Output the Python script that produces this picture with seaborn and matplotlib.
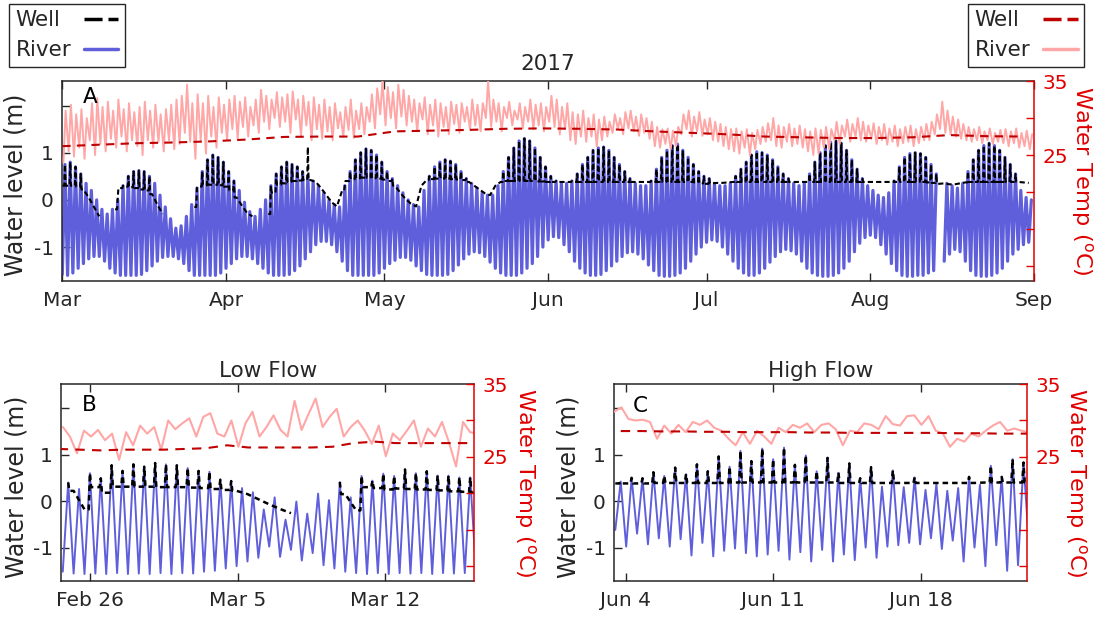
import numpy as np
import pandas as pd
import matplotlib
matplotlib.use("Agg")
import matplotlib.pyplot as plt
from matplotlib.lines import Line2D
import seaborn as sns

nan = np.nan

# ---------------- Panel A: daily tidal extremes, 1 Mar - 31 Aug 2017 ----------------
a_days = pd.date_range("2017-03-01", periods=184, freq="D")
a_river_hi = [
    0.75, 0.80, 0.70, 0.55, 0.35, 0.20, 0.00, -0.20, -0.30, -0.20,
    0.00, 0.30, 0.50, 0.60, 0.62, 0.60, 0.50, 0.35, 0.10, -0.15,
    -0.40, -0.60, -0.55, -0.35, -0.10, 0.25, 0.60, 0.85, 0.95, 0.90,
    0.80, 0.60, 0.40, 0.20, -0.05, -0.25, -0.35, -0.20, 0.00, 0.30,
    0.55, 0.70, 0.80, 0.75, 0.70, 0.60, 0.50, 0.40, 0.30, 0.15,
    0.00, -0.10, -0.15, 0.30, 0.60, 0.85, 1.00, 1.08, 1.05, 0.95,
    0.80, 0.60, 0.45, 0.30, 0.15, 0.00, -0.10, -0.15, 0.20, 0.50,
    0.70, 0.80, 0.85, 0.82, 0.75, 0.60, 0.45, 0.35, 0.25, 0.15,
    0.10, 0.10, 0.30, 0.60, 0.90, 1.10, 1.25, 1.30, 1.25, 1.10,
    0.90, 0.70, 0.50, 0.40, 0.35, 0.35, 0.40, 0.55, 0.75, 0.90,
    1.05, 1.10, 1.12, 1.05, 0.90, 0.75, 0.60, 0.45, 0.35, 0.30,
    0.30, 0.40, 0.65, 0.90, 1.05, 1.15, 1.18, 1.05, 0.90, 0.75,
    0.60, 0.50, 0.45, 0.35, 0.30, 0.30, 0.35, 0.50, 0.65, 0.80,
    0.95, 1.02, 1.00, 0.95, 0.85, 0.70, 0.55, 0.45, 0.35, 0.30,
    0.35, 0.55, 0.80, 1.00, 1.15, 1.22, 1.25, 1.20, 1.05, 0.85,
    0.65, 0.45, 0.30, 0.20, 0.10, 0.05, 0.15, 0.40, 0.70, 0.90,
    0.98, 1.00, 0.98, 0.90, 0.75, 0.55, nan, 0.35, 0.30, 0.25,
    0.35, 0.60, 0.85, 1.05, 1.15, 1.20, 1.15, 1.05, 0.90, 0.75,
    0.55, 0.20, 0.05, 0.00]
a_river_lo = [
    -1.58, -1.60, -1.55, -1.45, -1.35, -1.25, -1.20, -1.20, -1.30, -1.45,
    -1.55, -1.60, -1.60, -1.60, -1.60, -1.58, -1.50, -1.40, -1.30, -1.22,
    -1.20, -1.20, -1.25, -1.35, -1.50, -1.60, -1.60, -1.60, -1.60, -1.60,
    -1.55, -1.45, -1.35, -1.25, -1.20, -1.20, -1.25, -1.35, -1.45, -1.55,
    -1.60, -1.60, -1.60, -1.58, -1.50, -1.40, -1.25, -1.10, -0.95, -0.88,
    -0.88, -0.95, -1.10, -1.30, -1.50, -1.60, -1.60, -1.60, -1.60, -1.60,
    -1.55, -1.45, -1.35, -1.28, -1.22, -1.22, -1.28, -1.40, -1.50, -1.58,
    -1.60, -1.60, -1.60, -1.58, -1.50, -1.38, -1.25, -1.15, -1.10, -1.12,
    -1.20, -1.32, -1.45, -1.55, -1.60, -1.60, -1.60, -1.55, -1.45, -1.35,
    -1.20, -1.00, -0.85, -0.78, -0.80, -0.95, -1.10, -1.30, -1.45, -1.55,
    -1.60, -1.60, -1.58, -1.50, -1.40, -1.30, -1.20, -1.12, -1.10, -1.15,
    -1.25, -1.38, -1.50, -1.60, -1.62, -1.62, -1.60, -1.55, -1.45, -1.30,
    -1.15, -1.00, -0.90, -0.85, -0.88, -1.00, -1.15, -1.30, -1.45, -1.55,
    -1.60, -1.60, -1.55, -1.45, -1.32, -1.20, -1.10, -1.05, -1.08, -1.15,
    -1.30, -1.45, -1.55, -1.60, -1.62, -1.62, -1.60, -1.55, -1.45, -1.30,
    -1.10, -0.92, -0.80, -0.75, -0.80, -0.95, -1.15, -1.35, -1.50, -1.60,
    -1.62, -1.62, -1.60, -1.60, -1.55, -1.50, nan, -1.30, -1.15, -1.05,
    -1.10, -1.30, -1.50, -1.60, -1.62, -1.62, -1.60, -1.55, -1.45, -1.30,
    -1.15, -1.05, -0.95, -0.90]
a_well_base = [
    0.30, 0.30, 0.30, 0.28, 0.22, 0.05, -0.15, -0.35, nan, nan,
    -0.20, 0.25, 0.28, 0.27, 0.25, 0.22, 0.20, 0.12, -0.10, -0.30,
    nan, nan, nan, nan, nan, -0.15, 0.28, 0.31, 0.32, 0.32,
    0.31, 0.28, 0.20, 0.05, -0.12, -0.28, -0.35, nan, nan, -0.30,
    0.15, 0.32, 0.35, 0.38, 0.40, 0.41, 0.42, 0.42, 0.38, 0.25,
    0.10, -0.05, -0.14, 0.20, 0.40, 0.44, 0.46, 0.47, 0.47, 0.46,
    0.45, 0.43, 0.40, 0.30, 0.15, 0.02, -0.08, -0.14, 0.30, 0.42,
    0.44, 0.45, 0.45, 0.45, 0.44, 0.43, 0.42, 0.38, 0.30, 0.22,
    0.14, 0.10, 0.30, 0.38, 0.40, 0.40, 0.40, 0.40, 0.40, 0.40,
    0.39, 0.39, 0.38, 0.38, 0.38, 0.38, 0.38, 0.38, 0.38, 0.38,
    0.38, 0.38, 0.38, 0.38, 0.38, 0.38, 0.38, 0.38, 0.38, 0.38,
    0.38, 0.38, 0.38, 0.38, 0.38, 0.38, 0.38, 0.38, 0.38, 0.38,
    0.37, 0.35, 0.34, 0.35, 0.36, 0.36, 0.37, 0.38, 0.38, 0.38,
    0.38, 0.38, 0.38, 0.38, 0.38, 0.38, 0.38, 0.38, 0.38, 0.38,
    0.38, 0.38, 0.38, 0.38, 0.38, 0.38, 0.38, 0.38, 0.38, 0.38,
    0.38, 0.38, 0.38, 0.38, 0.38, 0.38, 0.38, 0.38, 0.38, 0.38,
    0.38, 0.38, 0.38, 0.38, 0.37, 0.36, 0.34, 0.35, 0.33, 0.33,
    0.35, 0.37, 0.38, 0.38, 0.38, 0.38, 0.38, 0.38, 0.38, 0.38,
    0.38, 0.38, 0.37, 0.36]
a_well_peak = [
    0.75, 0.80, 0.70, 0.55, 0.22, 0.05, -0.15, -0.35, nan, nan,
    0.05, 0.30, 0.50, 0.60, 0.62, 0.60, 0.50, 0.12, -0.10, -0.30,
    nan, nan, nan, nan, nan, 0.25, 0.60, 0.85, 0.95, 0.90,
    0.80, 0.60, 0.40, 0.05, -0.12, -0.28, -0.35, nan, nan, 0.30,
    0.55, 0.70, 0.80, 0.75, 0.70, 0.60, 1.12, 0.42, 0.38, 0.25,
    0.10, -0.05, -0.14, 0.30, 0.60, 0.85, 1.00, 1.08, 1.05, 0.95,
    0.80, 0.60, 0.45, 0.30, 0.15, 0.02, -0.08, -0.14, 0.30, 0.50,
    0.70, 0.80, 0.85, 0.82, 0.75, 0.60, 0.45, 0.38, 0.30, 0.22,
    0.14, 0.10, 0.30, 0.60, 0.90, 1.10, 1.25, 1.30, 1.25, 1.10,
    0.90, 0.70, 0.50, 0.40, 0.38, 0.38, 0.40, 0.55, 0.75, 0.90,
    1.05, 1.10, 1.12, 1.05, 0.90, 0.75, 0.60, 0.45, 0.38, 0.38,
    0.38, 0.40, 0.65, 0.90, 1.05, 1.15, 1.18, 1.05, 0.90, 0.75,
    0.60, 0.50, 0.45, 0.35, 0.36, 0.36, 0.37, 0.50, 0.65, 0.80,
    0.95, 1.02, 1.00, 0.95, 0.85, 0.70, 0.55, 0.45, 0.38, 0.38,
    0.38, 0.55, 0.80, 1.00, 1.15, 1.22, 1.25, 1.20, 1.05, 0.85,
    0.65, 0.45, 0.38, 0.38, 0.38, 0.38, 0.38, 0.40, 0.70, 0.90,
    0.98, 1.00, 0.98, 0.90, 0.75, 0.55, 0.34, 0.35, 0.33, 0.33,
    0.35, 0.60, 0.85, 1.05, 1.15, 1.20, 1.15, 1.05, 0.90, 0.75,
    0.55, 0.38, 0.37, 0.36]
a_rtemp_hi = [
    31.0, 31.8, 30.5, 31.2, 30.0, 32.0, 32.7, 31.5, 32.2, 31.0,
    32.5, 31.2, 32.0, 30.8, 31.5, 32.2, 31.0, 31.8, 30.5, 31.2,
    31.8, 32.5, 33.0, 34.5, 32.0, 33.2, 32.0, 33.0, 31.5, 32.8,
    31.8, 32.5, 33.0, 32.2, 32.8, 31.5, 32.5, 33.8, 33.0, 32.5,
    33.5, 32.8, 33.2, 33.6, 32.5, 33.0, 32.2, 32.8, 31.8, 32.5,
    31.5, 32.0, 30.8, 31.5, 32.5, 31.0, 32.0, 31.5, 33.2, 34.0,
    35.0, 34.2, 33.5, 34.5, 33.8, 33.0, 32.5, 32.0, 32.8, 31.8,
    32.5, 32.0, 31.5, 32.2, 31.8, 32.0, 31.5, 32.5, 31.8, 32.0,
    35.0, 32.5, 32.0, 31.5, 32.2, 31.0, 32.0, 31.5, 32.5, 31.8,
    32.0, 31.5, 33.0, 32.5, 31.5, 32.0, 30.8, 30.5, 31.0, 30.0,
    30.5, 29.8, 30.2, 29.5, 30.5, 30.0, 30.8, 31.0, 30.2, 30.5,
    30.0, 29.5, 28.8, 28.5, 28.6, 28.3, 28.8, 30.5, 31.0, 30.2,
    30.8, 29.8, 30.0, 29.5, 29.2, 28.8, 28.5, 28.6, 28.2, 28.5,
    28.0, 28.4, 28.8, 29.3, 30.0, 29.0, 28.8, 29.2, 28.6, 29.0,
    28.5, 28.2, 28.6, 28.4, 28.8, 28.5, 29.5, 29.0, 29.8, 29.2,
    30.0, 29.5, 29.0, 29.3, 28.8, 29.2, 28.6, 29.0, 28.5, 28.8,
    29.0, 28.5, 28.8, 29.2, 29.5, 30.5, 32.2, 31.0, 30.2, 29.8,
    29.2, 28.8, 28.5, 28.8, 28.2, 28.6, 28.0, 28.4, 28.5, 28.2,
    28.6, 28.0, 28.3, 27.8]
a_rtemp_lo = [
    24.0, 25.5, 24.8, 26.0, 24.5, 27.0, 25.0, 26.5, 25.5, 27.2,
    26.0, 27.5, 25.5, 27.0, 26.2, 25.0, 27.0, 26.0, 26.8, 25.5,
    27.0, 25.8, 26.5, 28.0, 26.8, 24.5, 27.0, 25.2, 27.5, 26.0,
    28.0, 27.0, 28.5, 27.2, 28.8, 27.5, 29.0, 28.0, 29.5, 28.5,
    30.0, 28.8, 29.5, 28.0, 29.8, 27.5, 29.0, 27.0, 28.5, 27.2,
    28.2, 27.0, 28.6, 27.5, 28.4, 27.3, 28.5, 27.8, 29.5, 28.6,
    30.5, 29.0, 30.0, 28.6, 30.2, 29.0, 29.5, 28.2, 29.8, 27.8,
    29.0, 27.5, 28.8, 27.8, 29.2, 28.0, 29.5, 28.4, 29.0, 28.2,
    30.0, 28.8, 29.5, 28.2, 30.0, 29.0, 29.8, 28.6, 29.5, 28.5,
    29.0, 28.2, 29.5, 28.8, 27.8, 28.5, 27.0, 26.5, 27.5, 26.8,
    27.5, 26.2, 27.0, 27.5, 28.0, 28.5, 27.8, 28.6, 28.2, 27.6,
    28.0, 27.2, 26.2, 26.0, 26.5, 25.8, 26.2, 27.8, 28.5, 27.5,
    28.2, 27.6, 27.8, 27.0, 26.8, 26.2, 25.8, 25.5, 25.2, 26.0,
    25.0, 25.8, 26.5, 26.8, 27.0, 26.2, 26.0, 26.8, 26.2, 26.5,
    26.0, 25.5, 25.0, 25.2, 26.0, 25.8, 27.0, 26.5, 27.5, 26.8,
    27.5, 27.0, 26.8, 27.2, 26.5, 27.0, 26.4, 26.8, 26.2, 26.6,
    26.8, 26.2, 26.6, 27.0, 27.0, 27.8, 28.5, 28.0, 27.8, 27.5,
    27.2, 27.0, 26.8, 27.0, 26.6, 27.0, 26.5, 26.8, 26.6, 26.2,
    26.6, 26.0, 26.2, 25.8]
a_wtemp_t = pd.date_range("2017-03-01", periods=27, freq="7D")
a_wtemp = [26.2, 26.4, 26.6, 26.7, 26.85, 27.1, 27.45, 27.5, 27.5, 28.2,
           28.3, 28.4, 28.55, 28.6, 28.55, 28.45, 28.2, 28.0, 27.8, 27.5,
           27.4, 27.3, 27.3, 27.4, 27.7, 27.55, 27.5]

# ---------------- Panel B: Low Flow (individual tides) ----------------
b_hi_t = pd.date_range("2017-02-24 22:48", periods=38, freq="743min")
b_lo_t = pd.date_range("2017-02-24 16:37", periods=39, freq="743min")
b_river_hi = [0.40, 0.26, 0.60, 0.49, 0.77, 0.65, 0.79, 0.74, 0.82, 0.79,
              0.77, 0.71, 0.65, 0.63, 0.46, 0.43, 0.28, 0.19, -0.18, 0.08,
              -0.40, -0.01, -0.27, 0.16, 0.02, 0.41, 0.08, 0.54, 0.44, 0.59,
              0.54, 0.68, 0.60, 0.64, 0.55, 0.55, 0.51, 0.51]
b_river_lo = [-1.52, -1.56, -1.57, -1.56, -1.57, -1.55, -1.57, -1.56, -1.57, -1.55,
              -1.57, -1.55, -1.56, -1.52, -1.50, -1.45, -1.40, -1.30, -1.22, -0.98,
              -1.20, -1.05, -1.28, -1.12, -1.38, -1.45, -1.52, -1.55, -1.57, -1.55,
              -1.57, -1.55, -1.56, -1.55, -1.57, -1.55, -1.56, -1.55, -1.40]
b_well_lo = [nan, 0.22, -0.18, 0.30, 0.18, 0.31, 0.31, 0.31, 0.31, 0.30,
             0.30, 0.30, 0.29, 0.28, 0.26, 0.24, 0.22, 0.15, 0.04, -0.07,
             -0.17, -0.26, nan, nan, nan, nan, 0.15, -0.20, 0.30, 0.28,
             0.25, 0.27, 0.26, 0.25, 0.24, 0.23, 0.21, 0.20, 0.18]
b_well_pk = [0.40, nan, 0.60, 0.49, 0.77, 0.65, 0.79, 0.74, 0.82, 0.79,
             0.77, 0.71, 0.65, 0.63, 0.46, 0.43, nan, nan, nan, nan,
             nan, nan, nan, nan, nan, 0.41, nan, 0.54, 0.44, 0.59,
             0.54, 0.68, 0.60, 0.64, 0.55, 0.55, 0.51, 0.51]
b_rtemp_t = pd.date_range("2017-02-24 16:48", periods=60, freq="8h")
b_rtemp = [29.1, 27.8, 25.5, 28.6, 27.8, 28.7, 27.3, 28.2, 24.6, 28.4,
           26.6, 29.3, 28.2, 29.1, 26.0, 30.0, 28.8, 29.6, 30.3, 27.8,
           30.5, 31.0, 28.2, 27.8, 30.0, 26.4, 29.6, 31.2, 27.8, 29.1,
           30.7, 28.7, 27.8, 32.7, 28.7, 30.9, 33.0, 29.1, 30.5, 31.6,
           27.8, 29.1, 30.0, 28.6, 26.8, 29.3, 25.1, 28.2, 27.3, 28.6,
           30.0, 26.4, 28.9, 27.8, 29.8, 27.0, 23.7, 29.8, 28.4, 28.2]
b_wtemp_t = pd.date_range("2017-02-24 12:00", periods=21, freq="D")
b_wtemp = [26.1, 26.0, 25.9, 26.0, 26.0, 26.0, 26.1, 26.2, 26.6, 26.3,
           26.3, 26.3, 26.3, 26.4, 26.9, 27.1, 26.9, 26.9, 26.9, 26.9, 26.9]

# ---------------- Panel C: High Flow (individual tides) ----------------
c_hi_t = pd.date_range("2017-06-03 18:00", periods=38, freq="745min")
c_lo_t = pd.date_range("2017-06-03 11:48", periods=39, freq="745min")
c_river_hi = [0.42, 0.50, 0.49, 0.62, 0.54, 0.72, 0.58, 0.79, 0.64, 0.96,
              0.74, 1.08, 0.86, 1.13, 0.90, 1.15, 0.78, 0.98, 0.64, 0.93,
              0.61, 0.81, 0.49, 0.73, 0.31, 0.66, 0.30, 0.51, 0.24, 0.37,
              0.22, 0.28, 0.52, 0.35, 0.76, 0.52, 0.90, 0.83]
c_river_lo = [-0.62, -0.98, -0.70, -0.93, -0.80, -0.98, -0.82, -1.17, -0.90, -1.19,
              -1.07, -1.02, -1.12, -1.19, -1.15, -1.07, -1.26, -1.10, -1.30, -1.05,
              -1.30, -1.15, -1.27, -1.00, -1.22, -0.98, -0.95, -0.90, -0.93, -0.80,
              -1.03, -0.85, -1.30, -1.00, -1.40, -0.95, -1.50, -1.38, -0.90]
c_well_lo = [0.38, 0.38, 0.38, 0.38, 0.39, 0.39, 0.39, 0.39, 0.39, 0.39,
             0.39, 0.40, 0.40, 0.40, 0.40, 0.40, 0.40, 0.40, 0.40, 0.40,
             0.40, 0.39, 0.39, 0.39, 0.39, 0.39, 0.39, 0.39, 0.39, 0.39,
             0.39, 0.39, 0.39, 0.39, 0.40, 0.40, 0.40, 0.40, 0.40]
c_well_pk = [0.42, 0.50, 0.49, 0.62, 0.54, 0.72, 0.58, 0.79, 0.64, 0.96,
             0.74, 1.08, 0.86, 1.13, 0.90, 1.15, 0.78, 0.98, 0.64, 0.93,
             0.61, 0.81, 0.49, 0.73, nan, 0.66, nan, 0.51, nan, nan,
             nan, nan, 0.52, nan, 0.76, 0.52, 0.90, 0.83]
c_rtemp_t = pd.date_range("2017-06-03 10:34", periods=59, freq="489min")
c_rtemp = [31.2, 31.8, 30.2, 30.0, 30.1, 29.8, 27.5, 29.3, 28.2, 29.4,
           28.4, 29.8, 29.4, 30.0, 29.0, 28.6, 27.5, 26.6, 28.4, 26.8,
           28.6, 27.8, 26.8, 29.0, 28.4, 29.4, 29.0, 29.6, 28.4, 29.4,
           29.6, 28.8, 26.6, 28.6, 28.4, 29.6, 29.4, 28.8, 30.6, 29.5,
           29.3, 30.6, 30.7, 29.4, 30.6, 28.6, 28.2, 26.4, 27.5, 27.1,
           28.2, 27.8, 28.6, 29.3, 29.8, 28.6, 28.9, 28.6, 28.4]
c_wtemp_t = pd.date_range("2017-06-03 18:00", periods=21, freq="D")
c_wtemp = [28.55, 28.55, 28.5, 28.5, 28.45, 28.45, 28.4, 28.4, 28.4, 28.35,
           28.35, 28.3, 28.3, 28.3, 28.3, 28.3, 28.25, 28.25, 28.2, 28.2, 28.2]

# ---------------- helpers ----------------
def alternate(t_a, v_a, t_b, v_b):
    ts, vs = [], []
    for i in range(len(t_a)):
        ts.append(t_a[i]); vs.append(v_a[i])
        if i < len(t_b):
            ts.append(t_b[i]); vs.append(v_b[i])
    return ts, vs


def well_path(t_lo, base, t_hi, peak, shoulder):
    ts, vs = [], []
    n = len(t_hi)
    for i in range(n):
        ts.append(t_lo[i]); vs.append(base[i])
        nxt = base[i + 1] if i + 1 < len(base) else base[i]
        p = peak[i]
        if np.isnan(p) or (not np.isnan(base[i]) and p <= base[i] + 0.005):
            continue
        ts += [t_hi[i] - shoulder, t_hi[i], t_hi[i] + shoulder]
        vs += [base[i], p, nxt]
    if len(base) > n:
        ts.append(t_lo[n]); vs.append(base[n])
    return ts, vs


def frame(ts, vs):
    v = np.asarray(vs, dtype=float)
    seg = np.cumsum(np.isnan(v))
    df = pd.DataFrame({"t": pd.DatetimeIndex(ts), "v": v, "seg": seg})
    return df[~np.isnan(v)]


def draw(ax, ts, vs, **kw):
    sns.lineplot(data=frame(ts, vs), x="t", y="v", units="seg", estimator=None,
                 sort=False, ax=ax, legend=False, **kw)


# ---------------- style ----------------
sns.set_theme(style="white")
INK = "#262626"
BLUE = "#5f5fdc"
PINK = "#ffa6a6"
DRED = "#c00000"
RED = "#e00000"
plt.rcParams.update({
    "font.family": ["DejaVu Sans"],
    "axes.unicode_minus": False,
    "text.color": INK,
    "axes.labelcolor": INK,
})

W, H = 1099, 617
fig = plt.figure(figsize=(W / 100, H / 100), dpi=100)
axA = fig.add_axes([62.3 / W, 1 - 281 / H, 971.7 / W, 200 / H])
axB = fig.add_axes([61.3 / W, 1 - 581 / H, 413.1 / W, 197 / H])
axC = fig.add_axes([614.3 / W, 1 - 581 / H, 412.7 / W, 197 / H])
tA, tB, tC = axA.twinx(), axB.twinx(), axC.twinx()

# ---- Panel A lines
hh = pd.Timedelta(hours=12)
ts, vs = alternate(a_days, a_river_lo, a_days + hh, a_river_hi)
draw(axA, ts, vs, color=BLUE, linewidth=2.3)
ts, vs = well_path(a_days, a_well_base, a_days + hh, a_well_peak, pd.Timedelta(hours=3))
draw(axA, ts, vs, color="black", linewidth=1.5, linestyle=(0, (2.5, 1.5)))
ts, vs = alternate(a_days + pd.Timedelta(hours=5), a_rtemp_lo,
                   a_days + pd.Timedelta(hours=15), a_rtemp_hi)
draw(tA, ts, vs, color=PINK, linewidth=1.4)
draw(tA, list(a_wtemp_t), a_wtemp, color=DRED, linewidth=1.5, linestyle=(0, (4, 3)))

# ---- Panel B lines
ts, vs = alternate(b_lo_t, b_river_lo, b_hi_t, b_river_hi)
draw(axB, ts, vs, color=BLUE, linewidth=1.4)
ts, vs = well_path(b_lo_t, b_well_lo, b_hi_t, b_well_pk, pd.Timedelta(minutes=80))
draw(axB, ts, vs, color="black", linewidth=1.8, linestyle=(0, (2.2, 1.6)))
draw(tB, list(b_rtemp_t), b_rtemp, color=PINK, linewidth=1.5)
draw(tB, list(b_wtemp_t), b_wtemp, color=DRED, linewidth=1.5, linestyle=(0, (4.5, 3.5)))

# ---- Panel C lines
ts, vs = alternate(c_lo_t, c_river_lo, c_hi_t, c_river_hi)
draw(axC, ts, vs, color=BLUE, linewidth=1.4)
ts, vs = well_path(c_lo_t, c_well_lo, c_hi_t, c_well_pk, pd.Timedelta(minutes=80))
draw(axC, ts, vs, color="black", linewidth=1.8, linestyle=(0, (2.2, 1.6)))
draw(tC, list(c_rtemp_t), c_rtemp, color=PINK, linewidth=1.5)
draw(tC, list(c_wtemp_t), c_wtemp, color=DRED, linewidth=1.5, linestyle=(0, (4.5, 3.5)))


def style(ax, tax, xlim, xticks, xlabels, lab_x, rlab_x, letter, let_xy, title, tpad):
    ax.set_xlim(pd.Timestamp(xlim[0]), pd.Timestamp(xlim[1]))
    ax.set_ylim(-1.72, 2.52)
    tax.set_ylim(8.0, 35.0)
    ax.set_xticks([pd.Timestamp(x) for x in xticks])
    ax.set_xticklabels(xlabels)
    ax.set_yticks([-1, 0, 1, 2])
    ax.set_yticklabels(["-1", "0", "1", ""])
    tax.set_yticks([10, 15, 20, 25, 30, 35])
    tax.set_yticklabels(["", "", "", "25", "", "35"])
    ax.tick_params(axis="both", direction="in", length=6, width=1, colors=INK,
                   labelsize=14.5, top=True, right=False, bottom=True, left=True)
    ax.tick_params(axis="x", pad=7)
    ax.tick_params(axis="y", pad=6)
    tax.tick_params(axis="y", direction="in", length=6, width=1, colors=RED,
                    labelsize=14.5, right=True, left=False, pad=6)
    for s in ["left", "top", "bottom"]:
        ax.spines[s].set_color(INK)
        ax.spines[s].set_linewidth(1.1)
        tax.spines[s].set_visible(False)
    ax.spines["right"].set_visible(False)
    tax.spines["right"].set_color(RED)
    tax.spines["right"].set_linewidth(1.1)
    ax.set_xlabel("")
    tax.set_xlabel("")
    ax.set_ylabel("Water level (m)", fontsize=17, color=INK)
    ax.yaxis.set_label_coords(lab_x, 0.48)
    tax.set_ylabel("Water Temp ($^{\\rm o}$C)", fontsize=16.2, color=RED,
                   rotation=270, va="bottom")
    tax.yaxis.set_label_coords(rlab_x, 0.5)
    ax.set_title(title, fontsize=15.5, color=INK, pad=tpad)
    tax.text(let_xy[0], let_xy[1], letter, transform=tax.transAxes, fontsize=15.5,
             ha="center", va="center", color="black")


style(axA, tA, ("2017-03-01", "2017-09-01"),
      ["2017-03-01", "2017-04-01", "2017-05-01", "2017-06-01", "2017-07-01",
       "2017-08-01", "2017-09-01"],
      ["Mar", "Apr", "May", "Jun", "Jul", "Aug", "Sep"],
      -0.0353, 1.0365, "A", (0.0285, 0.92), "2017", 8)
style(axB, tB, ("2017-02-24 14:57", "2017-03-16 05:45"),
      ["2017-02-26", "2017-03-05", "2017-03-12"], ["Feb 26", "Mar 5", "Mar 12"],
      -0.0806, 1.092, "B", (0.067, 0.893), "Low Flow", 5)
style(axC, tC, ("2017-06-03 10:40", "2017-06-23 01:26"),
      ["2017-06-04", "2017-06-11", "2017-06-18"], ["Jun 4", "Jun 11", "Jun 18"],
      -0.0831, 1.0870, "C", (0.062, 0.886), "High Flow", 5)

# ---- legends (text first, sample on the right, MATLAB style)
lkw = dict(frameon=True, fancybox=False, edgecolor=INK, fontsize=15.5, markerfirst=False,
           handlelength=1.6, handletextpad=0.5, borderpad=0.3, labelspacing=0.45,
           borderaxespad=0, framealpha=1)
leg1 = fig.legend(handles=[Line2D([], [], color="black", lw=2.5, linestyle=(0, (5.2, 1.7))),
                           Line2D([], [], color=BLUE, lw=2.5)],
                  labels=["Well", "River"], loc="upper left",
                  bbox_to_anchor=(9 / W, 1 - 4 / H), **lkw)
leg2 = fig.legend(handles=[Line2D([], [], color=DRED, lw=2.5, linestyle=(0, (5.2, 1.7))),
                           Line2D([], [], color=PINK, lw=2.5)],
                  labels=["Well", "River"], loc="upper right",
                  bbox_to_anchor=(1084 / W, 1 - 4 / H), **lkw)
for lg in (leg1, leg2):
    lg.get_frame().set_linewidth(1.0)
    try:
        for col in lg._legend_handle_box.get_children():
            for row in col.get_children():
                row.mode = "expand"
                row.width = 103
    except Exception:
        pass

fig.savefig("out.png", dpi=100)
